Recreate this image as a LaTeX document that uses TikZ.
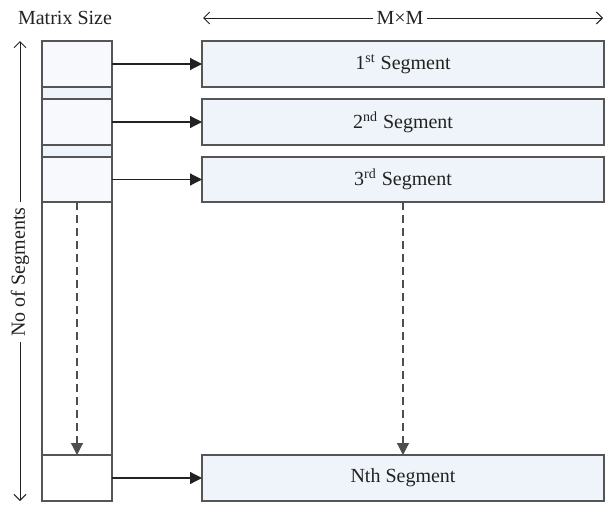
\documentclass[tikz,border=0pt]{standalone}
\usepackage{fontspec}
\setmainfont{Liberation Serif}
\usetikzlibrary{arrows.meta}
\definecolor{segfill}{HTML}{EEF4F9}
\definecolor{colfill}{HTML}{F7F9FC}
\definecolor{stripfill}{HTML}{EFF3FA}
\definecolor{edge}{HTML}{555555}
\definecolor{ink}{HTML}{222222}
\begin{document}
\begin{tikzpicture}[x=0.5pt,y=-0.5pt,
  every node/.style={font=\fontsize{10}{12}\selectfont, text=ink},
  segbox/.style={draw=edge, line width=0.8pt, fill=segfill, minimum width=201pt, minimum height=23pt, inner sep=0pt, outer sep=0pt},
  colbox/.style={draw=edge, line width=0.8pt, fill=colfill, minimum width=35pt, inner sep=0pt, outer sep=0pt},
  link/.style={draw=ink, line width=0.6pt, -{Triangle[length=6pt,width=6pt]}},
  dlink/.style={draw=ink!80, line width=0.6pt, dash pattern=on 4pt off 2.5pt, -{Triangle[length=6pt,width=6pt]}},
  dim/.style={draw=ink, line width=0.5pt, {Straight Barb[length=3pt,width=6pt]}-{Straight Barb[length=3pt,width=6pt]}}
]
\useasboundingbox (0,0) rectangle (605,504);
% left column
\node[colbox, minimum height=23pt] (c1) at (77,64) {};
\node[colbox, fill=stripfill, minimum height=6pt] (s1) at (77,93) {};
\node[colbox, minimum height=23pt] (c2) at (77,122) {};
\node[colbox, fill=stripfill, minimum height=6pt] (s2) at (77,151) {};
\node[colbox, minimum height=22.5pt] (c3) at (77,179.5) {};
\node[colbox, fill=white, minimum height=126.5pt] (gap) at (77,328.5) {};
\node[colbox, fill=white, minimum height=23pt] (cN) at (77,478) {};
% segments
\node[segbox] (g1) at (403,64) {1\textsuperscript{st} Segment};
\node[segbox] (g2) at (403,122) {2\textsuperscript{nd} Segment};
\node[segbox, minimum height=22.5pt] (g3) at (403,179.5) {3\textsuperscript{rd} Segment};
\node[segbox] (gN) at (403,478) {Nth Segment};
% links
\draw[link] (c1.east) -- (g1.west);
\draw[link] (c2.east) -- (g2.west);
\draw[link] (c3.east) -- (g3.west);
\draw[link] (cN.east) -- (gN.west);
\draw[dlink] (gap.north) -- (cN.north);
\draw[dlink] (g3.south) -- (gN.north);
% labels
\node (ms) at (65,18) {Matrix Size};
\coordinate (mmL) at (203,18);
\coordinate (mmR) at (603,18);
\draw[dim] (mmL) -- (mmR);
\node[fill=white, inner sep=2pt] (mm) at (400,18) {M\texttimes M};
\coordinate (nsT) at (20,41);
\coordinate (nsB) at (20,501);
\draw[dim] (nsT) -- (nsB);
\node[fill=white, inner sep=3pt, rotate=90] (ns) at (20,272) {No of Segments};
\end{tikzpicture}
\end{document}
